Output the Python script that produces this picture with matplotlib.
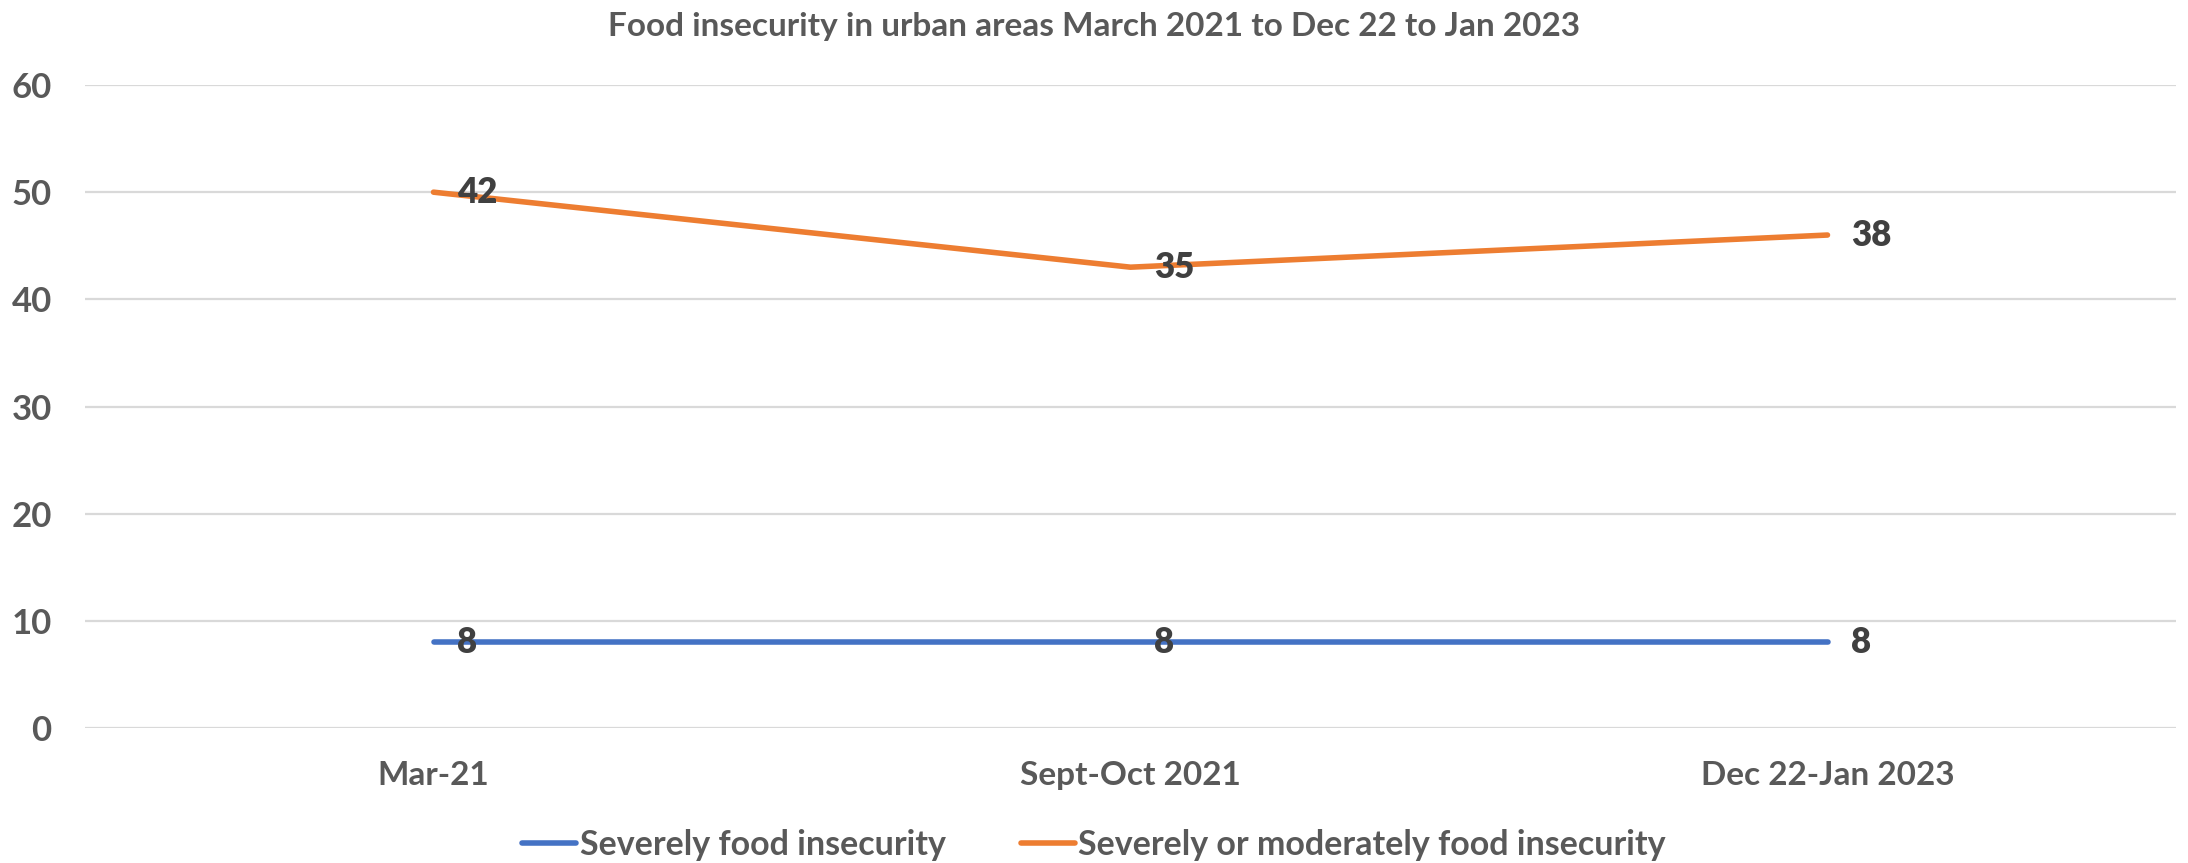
import matplotlib
matplotlib.use('Agg')
import matplotlib.pyplot as plt
import numpy as np

plt.rcParams['font.family'] = ['Lato', 'DejaVu Sans']
plt.rcParams['font.weight'] = 'bold'

periods = ['Mar-21', 'Sept-Oct 2021', 'Dec 22-Jan 2023']
severe = [8, 8, 8]
severe_or_moderate = [42, 35, 38]

grey = '#595959'
blue = '#4472C4'
orange = '#ED7D31'

fig = plt.figure(figsize=(21.88, 8.63), dpi=100)
ax = fig.add_axes([85 / 2188, 135 / 863, 2091 / 2188, 643 / 863])

x = np.arange(len(periods))
# stacked line chart: second series sits on top of the first
top = np.array(severe) + np.array(severe_or_moderate)

ax.plot(x, severe, color=blue, lw=4, solid_capstyle='round',
        label='Severely food insecurity')
ax.plot(x, top, color=orange, lw=4, solid_capstyle='round',
        label='Severely or moderately food insecurity')

for xi, yi, v in zip(x, severe, severe):
    ax.annotate(str(v), (xi, yi), xytext=(17, 0), textcoords='offset points',
                ha='left', va='center', fontsize=25, color='#404040',
                fontweight='heavy')
for xi, yi, v in zip(x, top, severe_or_moderate):
    ax.annotate(str(v), (xi, yi), xytext=(17, 0), textcoords='offset points',
                ha='left', va='center', fontsize=25, color='#404040',
                fontweight='heavy')

ax.set_xlim(-0.5, 2.5)
ax.set_ylim(0, 60)
ax.set_yticks(range(0, 61, 10))
ax.set_xticks(x)
ax.set_xticklabels(periods)
ax.grid(axis='y', color='#D9D9D9', lw=1.6)
ax.set_axisbelow(True)
for s in ax.spines.values():
    s.set_visible(False)
ax.tick_params(length=0, labelcolor=grey)
ax.tick_params(axis='y', pad=24, labelsize=25)
ax.tick_params(axis='x', pad=24, labelsize=24)

fig.text(0.5, 1 - 36 / 863, 'Food insecurity in urban areas March 2021 to Dec 22 to Jan 2023',
         ha='center', va='baseline', fontsize=24, color=grey, fontweight='bold')

fig.legend(loc='center', bbox_to_anchor=(0.5, 18 / 863), ncol=2, frameon=False,
           fontsize=24.5, labelcolor=grey, handlelength=1.6, handletextpad=0.1,
           columnspacing=2.2)

fig.savefig('out.png', dpi=100)
